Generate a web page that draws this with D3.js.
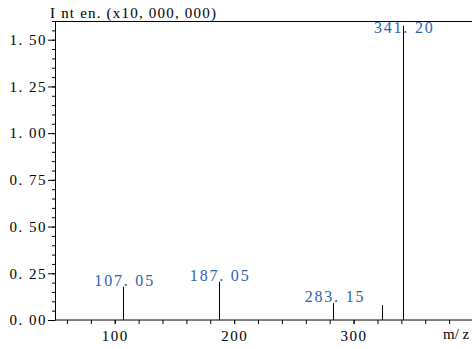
<!DOCTYPE html>
<html><head><meta charset="utf-8">
<script src="https://cdn.jsdelivr.net/npm/d3@7"></script>
<style>
body{margin:0;background:#fff;}
svg{display:block;}
</style></head>
<body>
<svg id="c" width="472" height="349"></svg>
<script>
const peakMz = [107.05, 187.05, 283.15, 324.2, 341.20];
const peakInt = [0.178, 0.205, 0.09, 0.08, 1.575];
const peakLabels = ["107. 05", "187. 05", "283. 15", "", "341. 20"];
const yTickValues = [0, 0.25, 0.5, 0.75, 1.0, 1.25, 1.5];
const yTickLabels = ["0. 00", "0. 25", "0. 50", "0. 75", "1. 00", "1. 25", "1. 50"];
const xTickValues = [100, 200, 300];
const xTickLabels = ["100", "200", "300"];
const yTitle = "I nt en. (x10, 000, 000)";
const xTitle = "m/ z";

const FONT = "'Liberation Serif', 'Times New Roman', serif";
const svg = d3.select("#c");
const x = d3.scaleLinear().domain([50, 400]).range([55, 473]);
const y = d3.scaleLinear().domain([0, 1.6]).range([320, 21]);

// top border
svg.append("line").attr("x1", 55).attr("x2", 472).attr("y1", 21.5).attr("y2", 21.5)
  .attr("stroke", "#000").attr("stroke-width", 1);

// y axis minor
const yMinor = d3.range(0, 1.6001, 0.05).map(v => +v.toFixed(2));
svg.append("g").attr("transform", "translate(55,0)")
  .call(d3.axisLeft(y).tickValues(yMinor).tickSize(3).tickFormat(""))
  .call(g => g.select(".domain").remove())
  .selectAll("line").attr("stroke", "#000");
const yAx = svg.append("g").attr("transform", "translate(55,0)")
  .call(d3.axisLeft(y).tickValues(yTickValues).tickSize(7).tickSizeOuter(0)
    .tickFormat((d, i) => yTickLabels[i]).tickPadding(1));
yAx.select(".domain").attr("stroke", "#000");
yAx.selectAll("line").attr("stroke", "#000");
yAx.selectAll("text").style("font-family", FONT).style("font-size", "15px")
  .attr("fill", "#000").style("letter-spacing", "1.5px");

// x axis
const xMinor = d3.range(60, 401, 20);
svg.append("g").attr("transform", "translate(0,320)")
  .call(d3.axisBottom(x).tickValues(xMinor).tickSize(4).tickFormat(""))
  .call(g => g.select(".domain").remove())
  .selectAll("line").attr("stroke", "#000");
const xAx = svg.append("g").attr("transform", "translate(0,320)")
  .call(d3.axisBottom(x).tickValues(xTickValues).tickSize(4).tickSizeOuter(0)
    .tickFormat((d, i) => xTickLabels[i]).tickPadding(6));
xAx.select(".domain").attr("stroke", "#000").attr("d", "M55,0H472");
xAx.selectAll("line").attr("stroke", "#000");
xAx.selectAll("text").style("font-family", FONT).style("font-size", "15px")
  .attr("fill", "#000").style("letter-spacing", "1.5px");

// peaks
svg.append("g").selectAll("line").data(peakMz).join("line")
  .attr("x1", d => Math.round(x(d)) + 0.5).attr("x2", d => Math.round(x(d)) + 0.5)
  .attr("y1", y(0)).attr("y2", (d, i) => y(peakInt[i]))
  .attr("stroke", "#000").attr("stroke-width", 1);

svg.append("g").selectAll("text").data(peakMz).join("text")
  .attr("x", d => x(d) + 1.5)
  .attr("y", (d, i) => Math.max(y(peakInt[i]) - 1, y(1.6) + 12))
  .attr("text-anchor", "middle")
  .style("font-family", FONT).style("font-size", "16px").attr("fill", "#2e62ae")
  .style("letter-spacing", "1.8px")
  .text((d, i) => peakLabels[i]);

// titles
svg.append("text").attr("x", 50).attr("y", 18)
  .style("font-family", FONT).style("font-size", "15px").attr("fill", "#000")
  .style("letter-spacing", "1.2px").text(yTitle);
svg.append("text").attr("x", 443).attr("y", 339)
  .style("font-family", FONT).style("font-size", "15px").attr("fill", "#000")
  .text(xTitle);
</script>
</body></html>
